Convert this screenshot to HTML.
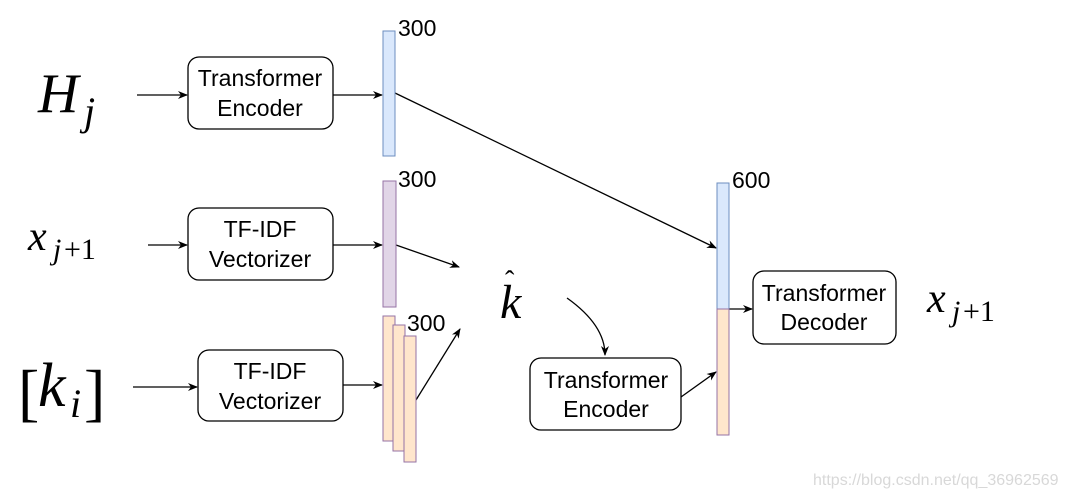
<!DOCTYPE html>
<html><head><meta charset="utf-8"><style>
html,body{margin:0;padding:0;background:#fff;width:1066px;height:496px;overflow:hidden}
svg text{font-family:"Liberation Sans",sans-serif}
.m{font-family:"Liberation Serif",serif;font-style:italic}
.r{font-family:"Liberation Serif",serif}
</style></head><body>
<svg width="1066" height="496" viewBox="0 0 1066 496" xmlns="http://www.w3.org/2000/svg">
<defs><marker id="a" markerWidth="10" markerHeight="8" refX="9" refY="4" orient="auto" markerUnits="userSpaceOnUse"><path d="M0,0 L10,4 L0,8 L3,4 z" fill="#000"/></marker></defs>
<g fill="none" stroke="#000" stroke-width="1.3">
<rect x="188" y="57" width="145" height="72" rx="11" fill="#fff"/>
<rect x="188" y="208" width="145" height="72" rx="11" fill="#fff"/>
<rect x="198" y="350" width="145" height="71" rx="11" fill="#fff"/>
<rect x="530" y="358" width="151" height="72" rx="11" fill="#fff"/>
<rect x="753" y="271" width="143" height="73" rx="11" fill="#fff"/>
<line x1="137" y1="95" x2="187" y2="95" marker-end="url(#a)"/>
<line x1="333" y1="95" x2="382" y2="95" marker-end="url(#a)"/>
<line x1="395" y1="93" x2="716" y2="248" marker-end="url(#a)"/>
<line x1="148" y1="245" x2="187" y2="245" marker-end="url(#a)"/>
<line x1="333" y1="245" x2="382" y2="245" marker-end="url(#a)"/>
<line x1="396" y1="245" x2="459" y2="267" marker-end="url(#a)"/>
<line x1="133" y1="387" x2="197" y2="387" marker-end="url(#a)"/>
<line x1="343" y1="385" x2="382" y2="385" marker-end="url(#a)"/>
<line x1="416" y1="400" x2="460" y2="329" marker-end="url(#a)"/>
<path d="M567,298 Q605,325 605,355" marker-end="url(#a)"/>
<line x1="681" y1="397" x2="716" y2="372" marker-end="url(#a)"/>
<line x1="729" y1="309" x2="752" y2="309" marker-end="url(#a)"/>
</g>
<rect x="383" y="31" width="12" height="125" fill="#dae8fc" stroke="#6c8ebf"/>
<rect x="383" y="181" width="13" height="126" fill="#e1d5e7" stroke="#9673a6"/>
<rect x="383" y="316" width="12" height="125" fill="#ffe6cc" stroke="#9673a6"/>
<rect x="393" y="325" width="12" height="126" fill="#ffe6cc" stroke="#9673a6"/>
<rect x="404" y="336" width="12" height="126" fill="#ffe6cc" stroke="#9673a6"/>
<rect x="717" y="183" width="12" height="126" fill="#dae8fc" stroke="#6c8ebf"/>
<rect x="717" y="309" width="12" height="126" fill="#ffe6cc" stroke="#9673a6"/>
<g font-size="23" fill="#000">
<text x="398" y="36">300</text>
<text x="398" y="187">300</text>
<text x="407" y="331">300</text>
<text x="732" y="188">600</text>
<g text-anchor="middle">
<text x="260" y="86">Transformer</text><text x="260" y="116">Encoder</text>
<text x="260" y="237">TF-IDF</text><text x="260" y="267">Vectorizer</text>
<text x="270" y="379">TF-IDF</text><text x="270" y="409">Vectorizer</text>
<text x="606" y="388">Transformer</text><text x="606" y="417">Encoder</text>
<text x="824" y="301">Transformer</text><text x="824" y="330">Decoder</text>
</g></g>
<text class="m" x="38" y="112" font-size="56">H</text><text class="m" x="84" y="125" font-size="40">j</text>
<text class="m" x="28" y="250" font-size="42">x</text><text class="m" x="53" y="259" font-size="30">j</text><text class="r" x="64" y="259" font-size="30">+1</text>
<text class="r" x="18" y="414" font-size="64">[</text><text class="m" x="38" y="406" font-size="62">k</text><text class="m" x="70" y="417" font-size="40">i</text><text class="r" x="84" y="414" font-size="64">]</text>
<text class="m" x="500" y="318" font-size="48">k</text><text class="r" x="505" y="290" font-size="28">ˆ</text>
<text class="m" x="927" y="312" font-size="42">x</text><text class="m" x="952" y="321" font-size="30">j</text><text class="r" x="963" y="321" font-size="30">+1</text>
<text x="813" y="485" font-size="16" fill="#d8d8d8">https://blog.csdn.net/qq_36962569</text>
</svg>
</body></html>
